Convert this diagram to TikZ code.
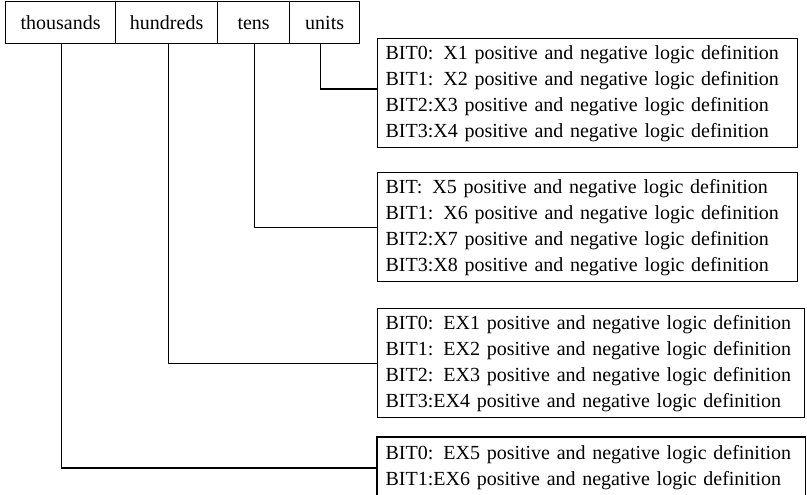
\documentclass[tikz,border=0pt]{standalone}
\usepackage{fontspec}
\setmainfont{Liberation Serif}
\newcommand{\cg}{\hspace{10pt}}
\begin{document}
\begin{tikzpicture}[x=1pt,y=-1pt,
  cell/.style={draw, line width=1.3pt, minimum height=42, inner sep=0, text height=17.5, text depth=4, anchor=north west, font=\fontsize{20}{24}\selectfont},
  bitbox/.style={draw, line width=1.3pt, anchor=north west, minimum width=420, minimum height=109, inner xsep=8, inner ysep=0, text width=404, align=left, font=\fontsize{20}{26}\selectfont\frenchspacing},
  widebox/.style={bitbox, minimum width=427, text width=411},
  link/.style={line width=1.3pt}]
\useasboundingbox (0,0) rectangle (807,495);
\clip (0,0) rectangle (807,495);
\node[cell, minimum width=110] (th) at (5,1) {thousands};
\node[cell, minimum width=102] (hu) at (115,1) {hundreds};
\node[cell, minimum width=72] (te) at (217,1) {tens};
\node[cell, minimum width=70] (un) at (289,1) {units};
\node[bitbox] (b1) at (377,38) {BIT0:\cg X1 positive and negative logic definition\\BIT1:\cg X2 positive and negative logic definition\\BIT2:X3 positive and negative logic definition\\BIT3:X4 positive and negative logic definition};
\node[bitbox] (b2) at (377,172) {BIT:\cg X5 positive and negative logic definition\\BIT1:\cg X6 positive and negative logic definition\\BIT2:X7 positive and negative logic definition\\BIT3:X8 positive and negative logic definition};
\node[widebox] (b3) at (377,308) {BIT0:\cg EX1 positive and negative logic definition\\BIT1:\cg EX2 positive and negative logic definition\\BIT2:\cg EX3 positive and negative logic definition\\BIT3:EX4 positive and negative logic definition};
\node[widebox, draw=none, minimum height=0, inner ysep=8] (b4) at (377,437) {BIT0:\cg EX5 positive and negative logic definition\\BIT1:EX6 positive and negative logic definition};
\draw[link] ([yshift=-40]b4.south west) |- (b4.north east) -- ([yshift=-40]b4.south east);
\draw[link] ([xshift=-4]un.south) |- ([yshift=4]b1.west);
\draw[link] ([xshift=1]te.south) |- (b2.west);
\draw[link] ([xshift=2]hu.south) |- (b3.west);
\draw[link] ([xshift=1]th.south) |- (b4.west);
\end{tikzpicture}
\end{document}
